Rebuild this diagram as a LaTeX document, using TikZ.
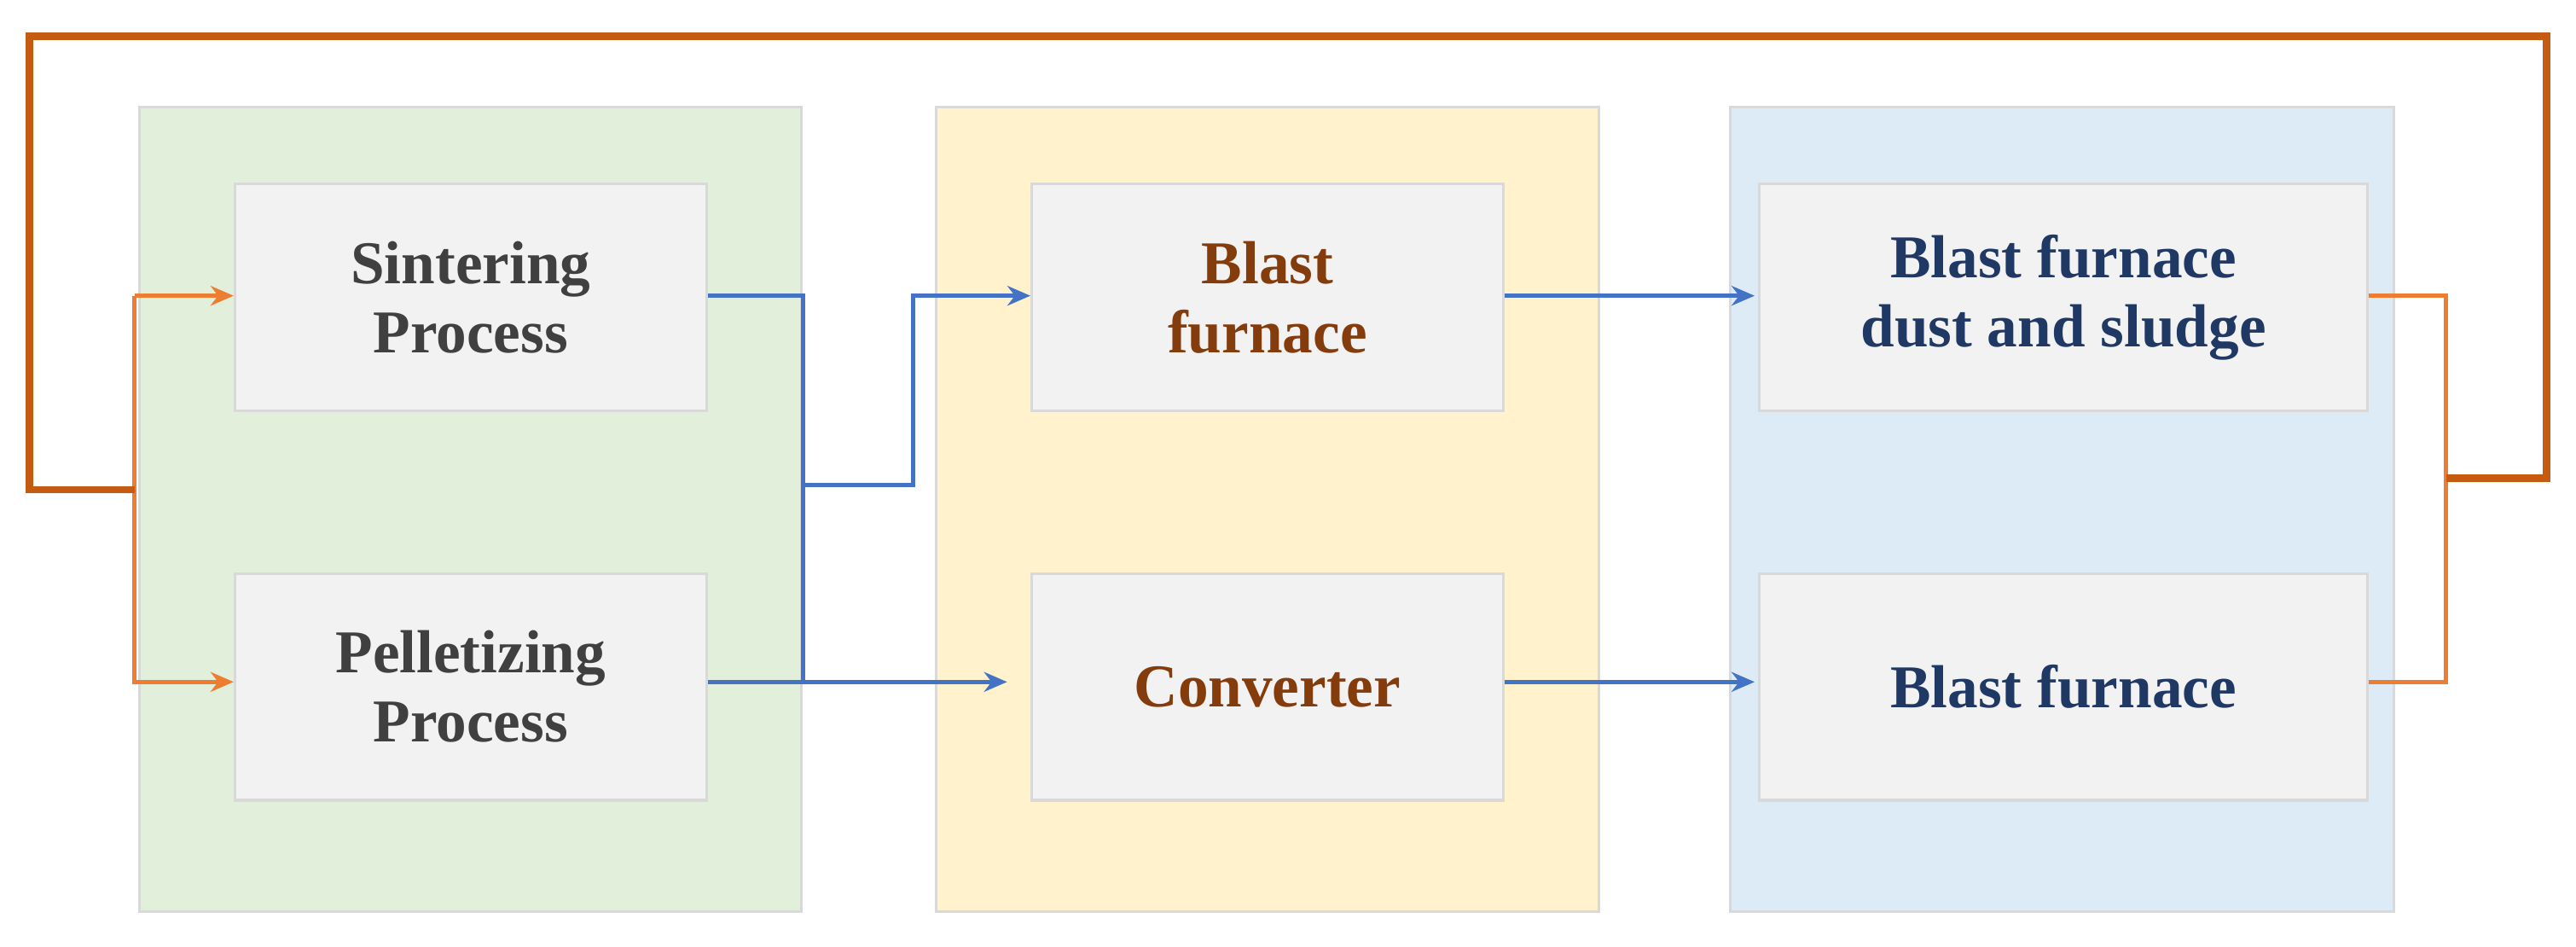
\documentclass[tikz,border=0pt]{standalone}
\usepackage{fontspec}
\setmainfont{Liberation Serif}
\usetikzlibrary{arrows.meta}
\definecolor{pg}{HTML}{E2EFDA}
\definecolor{py}{HTML}{FFF2CC}
\definecolor{pb}{HTML}{DDEBF7}
\definecolor{bx}{HTML}{F2F2F2}
\definecolor{bd}{HTML}{D9D9D9}
\definecolor{tg}{HTML}{404040}
\definecolor{tb}{HTML}{843C0C}
\definecolor{tn}{HTML}{1F3864}
\definecolor{lb}{HTML}{4472C4}
\definecolor{lo}{HTML}{ED7D31}
\definecolor{lr}{HTML}{C55A11}
\begin{document}
\begin{tikzpicture}[x=0.5pt,y=-0.5pt,
 panel/.style={draw=bd,line width=0.8pt},
 box/.style={draw=bd,fill=bx,line width=0.8pt,align=center,font=\fontsize{18.5}{21}\selectfont\bfseries},
 blue/.style={draw=lb,line width=1.3pt},
 org/.style={draw=lo,line width=1.3pt},
 loop/.style={draw=lr,line width=2.2pt},
 tip/.style={-{Stealth[length=7pt,width=6pt]}}]
\useasboundingbox (0,0) rectangle (1568,576);
\fill[white] (0,0) rectangle (1568,576);
\draw[panel,fill=pg] (85,65) rectangle (488,555);
\draw[panel,fill=py] (570,65) rectangle (973,555);
\draw[panel,fill=pb] (1053,65) rectangle (1457,555);
\node[box,text=tg,minimum width=143.5pt,minimum height=69pt] (s) at (286.5,181) {Sintering\\Process};
\node[box,text=tg,minimum width=143.5pt,minimum height=69pt] (p) at (286.5,418) {Pelletizing\\Process};
\node[box,text=tb,minimum width=143.5pt,minimum height=69pt] (bf) at (771.5,181) {Blast\\furnace};
\node[box,text=tb,minimum width=143.5pt,minimum height=69pt] (cv) at (771.5,418) {Converter};
\node[box,text=tn,minimum width=185pt,minimum height=69pt] (d) at (1256,181) {Blast furnace\\dust and sludge};
\node[box,text=tn,minimum width=185pt,minimum height=69pt] (b2) at (1256,418) {Blast furnace};
\coordinate (j1) at (489,295);
\coordinate (j2) at (489,415);
\coordinate (r1) at (1489,291);
\coordinate (l1) at (82,298);
\draw[blue] (s.east |- 0,180) -| (j2);
\draw[blue] (p.east |- 0,415) -- (j2);
\draw[blue,tip] (j1) -- (556,295) |- (bf.west |- 0,180);
\draw[blue,tip] (j2) -- (613,415);
\draw[blue,tip] (bf.east |- 0,180) -- (1068,180);
\draw[blue,tip] (cv.east |- 0,415) -- (1068,415);
\draw[org] (d.east |- 0,180) -- (1489,180) -- (1489,415) -- (b2.east |- 0,415);
\draw[org,tip] (82,180) -- (s.west |- 0,180);
\draw[org,tip] (82,180) -- (82,415) -- (p.west |- 0,415);
\draw[loop] (r1) -- (1550,291) -- (1550,22) -- (18,22) -- (18,298) -- (l1);
\end{tikzpicture}
\end{document}
